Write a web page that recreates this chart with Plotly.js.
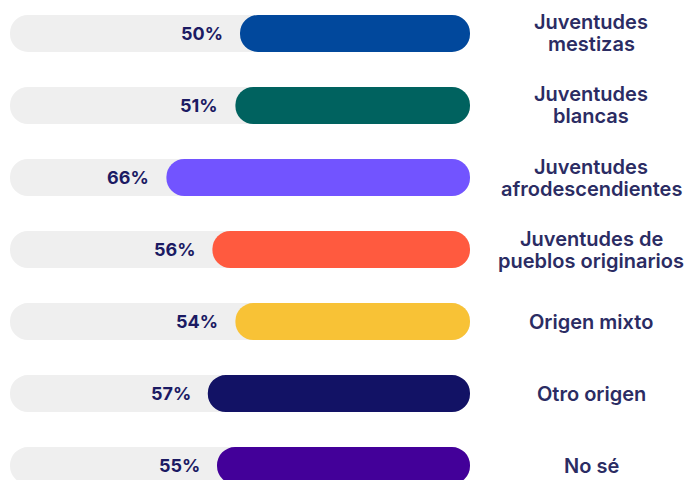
<!DOCTYPE html>
<html>
<head>
<meta charset="utf-8">
<script src="https://cdn.plot.ly/plotly-3.0.1.min.js"></script>
<style>
  html, body { margin: 0; padding: 0; background: #fff; }
  #myDiv { width: 689px; height: 480px; }
</style>
</head>
<body>
<div id="myDiv"></div>
<script>
var groups = ['Juventudes<br>mestizas', 'Juventudes<br>blancas', 'Juventudes<br>afrodescendientes',
  'Juventudes de<br>pueblos originarios', 'Origen mixto', 'Otro origen', 'No sé'];
// bar lengths as drawn in the picture (the "Origen mixto" bar is drawn shorter than its label)
var values = [50, 51, 66, 56, 51, 57, 55];
var valueLabels = ['50%', '51%', '66%', '56%', '54%', '57%', '55%'];
var colors = ['#01489c', '#00625f', '#7254ff', '#ff5a3f', '#f8c236', '#121265', '#430099'];
var fullValue = 100;

var track = groups.map(function(){ return fullValue; });
var zeros = groups.map(function(){ return 0; });

// explicit base -> plotly rounds both ends of the bar
var trackTrace = {
  type: 'bar', orientation: 'h', y: groups, x: track, base: zeros, width: 0.514,
  marker: {color: '#efefef', cornerradius: 19},
  hoverinfo: 'skip', showlegend: false
};
var valueTrace = {
  type: 'bar', orientation: 'h', y: groups, x: values, base: zeros, width: 0.514,
  marker: {color: colors, cornerradius: 19},
  hoverinfo: 'skip', showlegend: false
};

var labelFont = {family: 'Inter, Lato, sans-serif', size: 20, color: '#2b2c63', weight: 600};
var annotations = [];
for (var i = 0; i < groups.length; i++) {
  annotations.push({
    x: values[i], y: groups[i], xref: 'x', yref: 'y',
    text: valueLabels[i], showarrow: false, xanchor: 'right', xshift: -15,
    font: {family: 'Inter, Lato, sans-serif', size: 18, color: '#1b1a63', weight: 700}
  });
  // one annotation per line to keep the tighter line spacing
  var lines = groups[i].split('<br>');
  for (var j = 0; j < lines.length; j++) {
    annotations.push({
      x: 591 / 689, y: groups[i], xref: 'paper', yref: 'y',
      yshift: ((lines.length - 1) / 2 - j) * 22,
      text: lines[j], showarrow: false, xanchor: 'center',
      font: labelFont
    });
  }
}

var layout = {
  width: 689, height: 480,
  margin: {l: 0, r: 0, t: 0, b: 0},
  barmode: 'overlay',
  paper_bgcolor: '#ffffff', plot_bgcolor: '#ffffff',
  showlegend: false,
  xaxis: {domain: [10 / 689, 470 / 689], range: [100, 0], visible: false, fixedrange: true},
  yaxis: {type: 'category', categoryorder: 'array', categoryarray: groups,
    range: [6.201, -0.465], visible: false, fixedrange: true},
  annotations: annotations
};

Plotly.newPlot('myDiv', [trackTrace, valueTrace], layout, {displayModeBar: false, staticPlot: true});
</script>
</body>
</html>
